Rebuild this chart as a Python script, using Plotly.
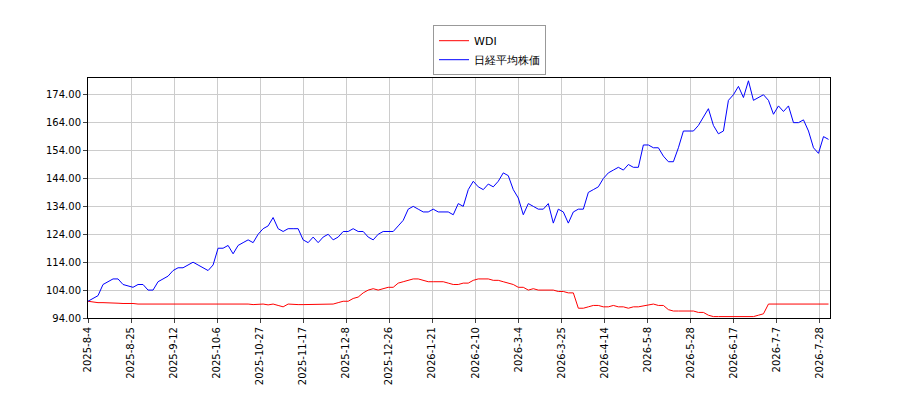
import plotly.graph_objects as go

# one sample every ~1.6 trading days
wdi = [100,99.7,99.5,99.5,99.5,99.3,99.3,99.2,99.3,99.2,
       99,99,99,99,99,99,99,99,99,99,
       99,99.2,99,99,99.2,99,99.2,99,99,99.2,
       99,99,99,98.8,99,99,98.7,99,98.5,98,
       99,98.8,98.8,98.8,98.8,98.8,98.8,98.8,98.8,99,
       99.5,100,100,101,101.5,103,104,104.5,104,104.5,
       105,105,106.5,107,107.5,108,108,107.5,107,107,
       107,107,106.5,106,106,106.5,106.5,107.5,108,108,
       108,107.5,107.5,107,106.5,106,105,105,104,104.5,
       104,104,104,104,103.5,103.5,103,103,97.5,97.5,
       98,98.5,98.5,98,98,98.5,98,98,97.5,98,
       98,98.3,98.5,99,98.5,98.5,97,96.5,96.5,96.5,
       96.5,96.5,96,96,95,94.5,94.5,94.5,94.5,94.5,
       94.5,94.5,94.5,94.5,95,95.5,99,99,99,99,
       99,99,99,99,99,99,99,99,99]
nikkei = [100,101,102,106,107,108,108,106,105.5,105,
          106,106,104,104,107,108,109,111,112,112,
          113,114,113,112,111,113,119,119,120,117,
          120,121,122,121,124,126,127,130,126,125,
          126,126,126,122,121,123,121,123,124,122,
          123,125,125,126,125,125,123,122,124,125,
          125,125,127,129,133,134,133,132,132,133,
          132,132,132,131,135,134,140,143,141,140,
          142,141,143,146,145,140,137,131,135,134,
          133,133,135,128,133,132,128,132,133,133,
          139,140,141,144,146,147,148,147,149,148,
          148,156,156,155,155,152,150,150,155,161,
          161,161,163,166,169,163,160,161,172,174,
          177,173,179,172,173,174,172,167,170,168,
          170,164,164,165,161,155,153,159,158]
tick_labels = ["2025-8-4","2025-8-25","2025-9-12","2025-10-6","2025-10-27","2025-11-17",
               "2025-12-8","2025-12-26","2026-1-21","2026-2-10","2026-3-4","2026-3-25",
               "2026-4-14","2026-5-8","2026-5-28","2026-6-17","2026-7-7","2026-7-28"]
y_ticks = [94,104,114,124,134,144,154,164,174]

xs = list(range(len(nikkei)))
tick_pos = [i * 8.6 for i in range(len(tick_labels))]

fig = go.Figure()
fig.add_trace(go.Scatter(x=xs, y=wdi, mode="lines", name="WDI", line=dict(color="red", width=1)))
fig.add_trace(go.Scatter(x=xs, y=nikkei, mode="lines", name="日経平均株価", line=dict(color="blue", width=1)))

fig.update_layout(
    width=900, height=400,
    margin=dict(l=80, r=78, t=70, b=90, autoexpand=False),
    plot_bgcolor="white", paper_bgcolor="white",
    font=dict(family="DejaVu Sans", size=10, color="black"),
    legend=dict(x=0.465, y=1.22, xanchor="left", yanchor="top",
                bordercolor="#999999", borderwidth=1, font=dict(size=11)),
    xaxis=dict(range=[0, 148.3], tickvals=tick_pos, ticktext=tick_labels, tickangle=-90,
               showgrid=True, gridcolor="#cccccc", linecolor="black", mirror=True,
               ticks="outside", ticklen=4, zeroline=False, automargin=False),
    yaxis=dict(range=[94, 180], tickvals=y_ticks, ticktext=[f"{v:.2f}" for v in y_ticks],
               showgrid=True, gridcolor="#cccccc", linecolor="black", mirror=True,
               ticks="outside", ticklen=4, zeroline=False, automargin=False),
)
fig.write_html("out.html")
